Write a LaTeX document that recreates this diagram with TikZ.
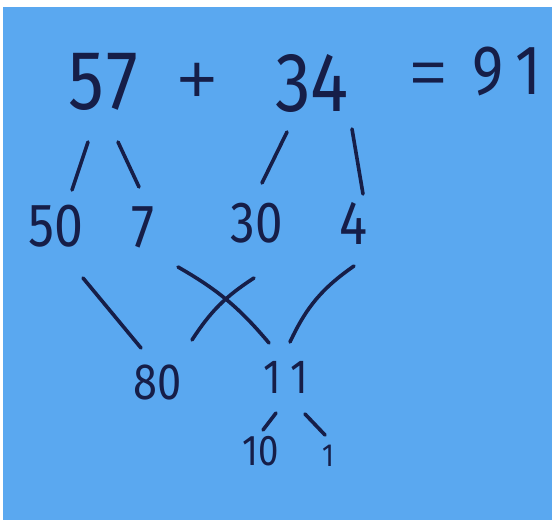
\documentclass[tikz,border=0pt]{standalone}
\usepackage{fontspec}
\newfontfamily\hand{Fira Sans}[FakeStretch=0.85]
\newfontfamily\symf{Liberation Sans}
\definecolor{paper}{RGB}{90,168,240}
\definecolor{ink}{RGB}{22,30,72}
\tikzset{
  num/.style={text=ink, inner sep=0pt, anchor=base},
  sym/.style={text=ink, inner sep=0pt, anchor=center},
  stroke/.style={draw=ink, line width=3.6pt, line cap=round},
}
\newcommand{\hfs}[1]{\hand\fontsize{#1}{#1}\selectfont}
\newcommand{\sfs}[1]{\symf\fontsize{#1}{#1}\selectfont}
\begin{document}
\begin{tikzpicture}[x=1pt,y=1pt]
\useasboundingbox (0,0) rectangle (552,520);
\fill[white] (0,0) rectangle (552,520);
\fill[paper] (3,0) rectangle (552,513);
% row 1
\node[num, font=\hfs{84}] (n57) at (103,410) {5\kern2pt 7};
\node[sym, font=\sfs{68}] (plus) at (197,437) {+};
\node[num, font=\hfs{84}] (n34) at (312,408) {34};
\node[sym, font=\sfs{62}] (eq) at (429,442) {=};
\node[num, font=\hfs{70}] (n91) at (507,425) {9\kern12pt 1};
% row 2
\node[num, font=\hfs{61}] (n50) at (56,273) {50};
\node[num, font=\hfs{61}] (n7) at (143,272) {7};
\node[num, font=\hfs{58}] (n30) at (257,277) {30};
\node[num, font=\hfs{62}] (n4) at (354,275) {4};
% row 3
\node[num, font=\hfs{51}] (n80) at (158,120) {80};
\node[num, font=\hfs{48}] (n11) at (286,126) {1\kern10pt 1};
% row 4
\node[num, font=\hfs{43}] (n10) at (261,55) {10};
\node[num, font=\hfs{32}] (n1) at (328,53) {1};
% connector ends
\coordinate (a1) at (88,378);  \coordinate (b1) at (72,330);
\coordinate (a2) at (118,378); \coordinate (b2) at (139,333);
\coordinate (a3) at (287,388); \coordinate (b3) at (262,337);
\coordinate (a4) at (352,391); \coordinate (b4) at (363,326);
\coordinate (a5) at (83,242);  \coordinate (b5) at (141,172);
\coordinate (a6) at (178,253); \coordinate (b6) at (269,177);
\coordinate (a7) at (254,242); \coordinate (b7) at (192,180);
\coordinate (a8) at (354,254); \coordinate (b8) at (290,178);
\coordinate (a9) at (276,107); \coordinate (b9) at (263,90);
\coordinate (a10) at (305,106); \coordinate (b10) at (325,85);
\draw[stroke] (a1) -- (b1);
\draw[stroke] (a2) -- (b2);
\draw[stroke] (a3) -- (b3);
\draw[stroke] (a4) -- (b4);
\draw[stroke] (a5) -- (b5);
\draw[stroke] (a6) to[bend left=10] (b6);
\draw[stroke] (a7) to[bend right=12] (b7);
\draw[stroke] (a8) to[bend right=15] (b8);
\draw[stroke] (a9) -- (b9);
\draw[stroke] (a10) -- (b10);
\end{tikzpicture}
\end{document}
